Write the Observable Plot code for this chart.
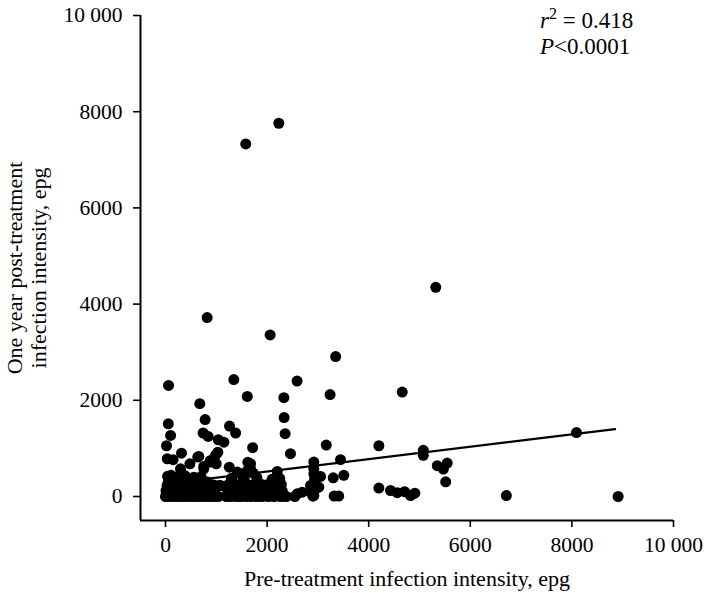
<!DOCTYPE html>
<html>
<head>
<meta charset="utf-8">
<script src="https://cdn.jsdelivr.net/npm/d3@7"></script>
<script src="https://cdn.jsdelivr.net/npm/@observablehq/plot@0.6"></script>
<style>
  body { margin: 0; background: #fff; }
  svg text { font-family: 'Liberation Serif', 'Times New Roman', Times, serif; }
</style>
</head>
<body>
<div id="chart"></div>
<script>
// ---- Data (epg) ----
// Individual, clearly separated points
const scatterX = [2230,1580,820,2060,3350,5320, 60,1345,2590,675,1610,2330,3240,4660, 55,100,20,35,150,315,110,295,480,635, 780,740,840,1040,1150,1030,985,885,755, 1260,1380,1715,1255,1620,1610,1477,1060, 2335,2355,2460,2200,2920,3165,2920,3052,3302, 2855,2954,2901,2593,2691,3445,3510,3320,3410, 4200,5075,5075,5350,5545,5470,5515,4200,4430,4562,4706,4824,4909,6710,8090,8910, 998,872,656,754,1083,1412,1674,1674,1727,3018,3018,2934,2855,2546,2920,2920];
const scatterY = [7760,7330,3720,3360,2910,4350, 2310,2430,2400,1930,2080,2055,2120,2170, 1510,1270,1055,785,765,900,440,575,680,820, 1600,1320,1250,1180,1130,920,855,750,625, 1465,1320,1015,610,710,540,472,230, 1640,1305,890,520,715,1070,472,417,389, 229,160,6,56,90,765,440,10,10, 1055,960,855,640,695,570,305,175,125,80,100,20,70,20,1330,0, 681,715,833,576,229,507,576,681,486,417,194,348,90,0,21,576];

// Dense low-intensity cluster (0–1050 epg pre-treatment)
const clusterAX = [0,40,80,120,160,200,240,280,320,360,400,440,480,520,560,600,640,680,720,760,800,840,880,920,960,1000,1040,
  10,90,170,250,330,410,490,570,650,730,810,890,970,
  30,130,230,340,440,550,650,760,860,950,
  60,190,300,420,530,620,720,830,
  40,240,390,560,700];
const clusterAY = [0,15,0,10,0,20,0,5,0,15,0,10,0,20,0,5,0,15,0,10,0,20,0,5,0,15,0,
  120,110,130,100,125,115,105,130,120,110,125,100,115,
  230,240,220,250,235,225,245,230,215,240,
  330,320,340,310,335,325,315,300,
  420,410,430,400,415];

// Dense cluster (1200–2400 epg pre-treatment)
const clusterBX = [1200,1240,1290,1340,1390,1440,1490,1540,1590,1640,1690,1740,1790,1840,1900,1960,2020,2080,2140,2200,2260,2320,2380,
  1220,1320,1420,1520,1620,1720,1820,1940,2060,2180,2300,
  1250,1380,1500,1640,1760,1880,2000,2150,2280,
  1300,1550,1800,2100,2250];
const clusterBY = [0,10,0,20,0,5,0,15,0,10,0,20,0,5,0,15,0,10,0,20,0,5,0,
  130,120,140,110,135,125,115,130,120,140,110,
  260,250,270,240,265,255,245,260,250,
  380,370,390,360,375];

// Fitted regression line (as drawn in the reference)
const fitX = [0, 8850];
const fitY = [263, 1400];

// Axis ticks and texts
const xTicks = [0, 2000, 4000, 6000, 8000, 10000];
const yTicks = [0, 2000, 4000, 6000, 8000, 10000];
const xTitle = "Pre-treatment infection intensity, epg";
const yTitle = ["One year post-treatment", "infection intensity, epg"];
const r2Text = "0.418";
const pText = "0.0001";

// ---- Build tables ----
const pts = [
  ...scatterX.map((x, i) => ({x, y: scatterY[i]})),
  ...clusterAX.map((x, i) => ({x, y: clusterAY[i]})),
  ...clusterBX.map((x, i) => ({x, y: clusterBY[i]}))
];
const fit = fitX.map((x, i) => ({x, y: fitY[i]}));
const fmt = d => d === 10000 ? "10 000" : String(d);
const FONT = "'Liberation Serif', 'Times New Roman', Times, serif";

const chart = Plot.plot({
  width: 709,
  height: 593,
  marginLeft: 140,
  marginRight: 36,
  marginTop: 15,
  marginBottom: 73,
  style: {fontFamily: FONT, fontSize: "21px", color: "#000", background: "#fff", overflow: "visible"},
  x: {domain: [0, 10000], range: [165, 673]},
  y: {domain: [0, 10000], range: [496, 15]},
  marks: [
    Plot.ruleX([0], {dx: -25, stroke: "#000", strokeWidth: 2}),
    Plot.ruleY([0], {dy: 24, stroke: "#000", strokeWidth: 2}),
    Plot.axisY(yTicks, {tickSize: 7, tickPadding: 11, tickFormat: fmt, strokeWidth: 1.6, label: null, fontSize: 21.5, fontFamily: FONT, fontVariant: "normal"}),
    Plot.axisX(xTicks, {tickSize: 7, tickPadding: 9, tickFormat: fmt, strokeWidth: 1.6, label: null, fontSize: 21.5, fontFamily: FONT, fontVariant: "normal"}),
    Plot.line(fit, {x: "x", y: "y", stroke: "#000", strokeWidth: 2.2}),
    Plot.dot(pts, {x: "x", y: "y", r: 5.5, fill: "#000", stroke: "none"}),
    Plot.text([xTitle], {frameAnchor: "bottom", dy: 58, text: d => d, fontSize: 22, fontFamily: FONT, lineAnchor: "middle"}),
    Plot.text([yTitle.join("\n")], {frameAnchor: "left", dx: -114, rotate: -90, textAnchor: "middle", lineAnchor: "middle", lineHeight: 1.1, fontSize: 22, fontFamily: FONT, text: d => d})
  ]
});

document.getElementById("chart").appendChild(chart);

// Statistics annotation (mixed italic / superscript text)
const svg = d3.select(chart.tagName.toLowerCase() === "svg" ? chart : chart.querySelector("svg"));
const t1 = svg.append("text").attr("x", 540).attr("y", 28).attr("text-anchor", "start").attr("font-size", 23).attr("font-family", FONT).attr("fill", "#000");
t1.append("tspan").attr("font-style", "italic").text("r");
t1.append("tspan").attr("font-size", 16).attr("dy", -9).text("2");
t1.append("tspan").attr("dy", 9).text(" = " + r2Text);
const t2 = svg.append("text").attr("x", 540).attr("y", 54).attr("text-anchor", "start").attr("font-size", 23).attr("font-family", FONT).attr("fill", "#000");
t2.append("tspan").attr("font-style", "italic").text("P");
t2.append("tspan").text("<" + pText);
</script>
</body>
</html>
